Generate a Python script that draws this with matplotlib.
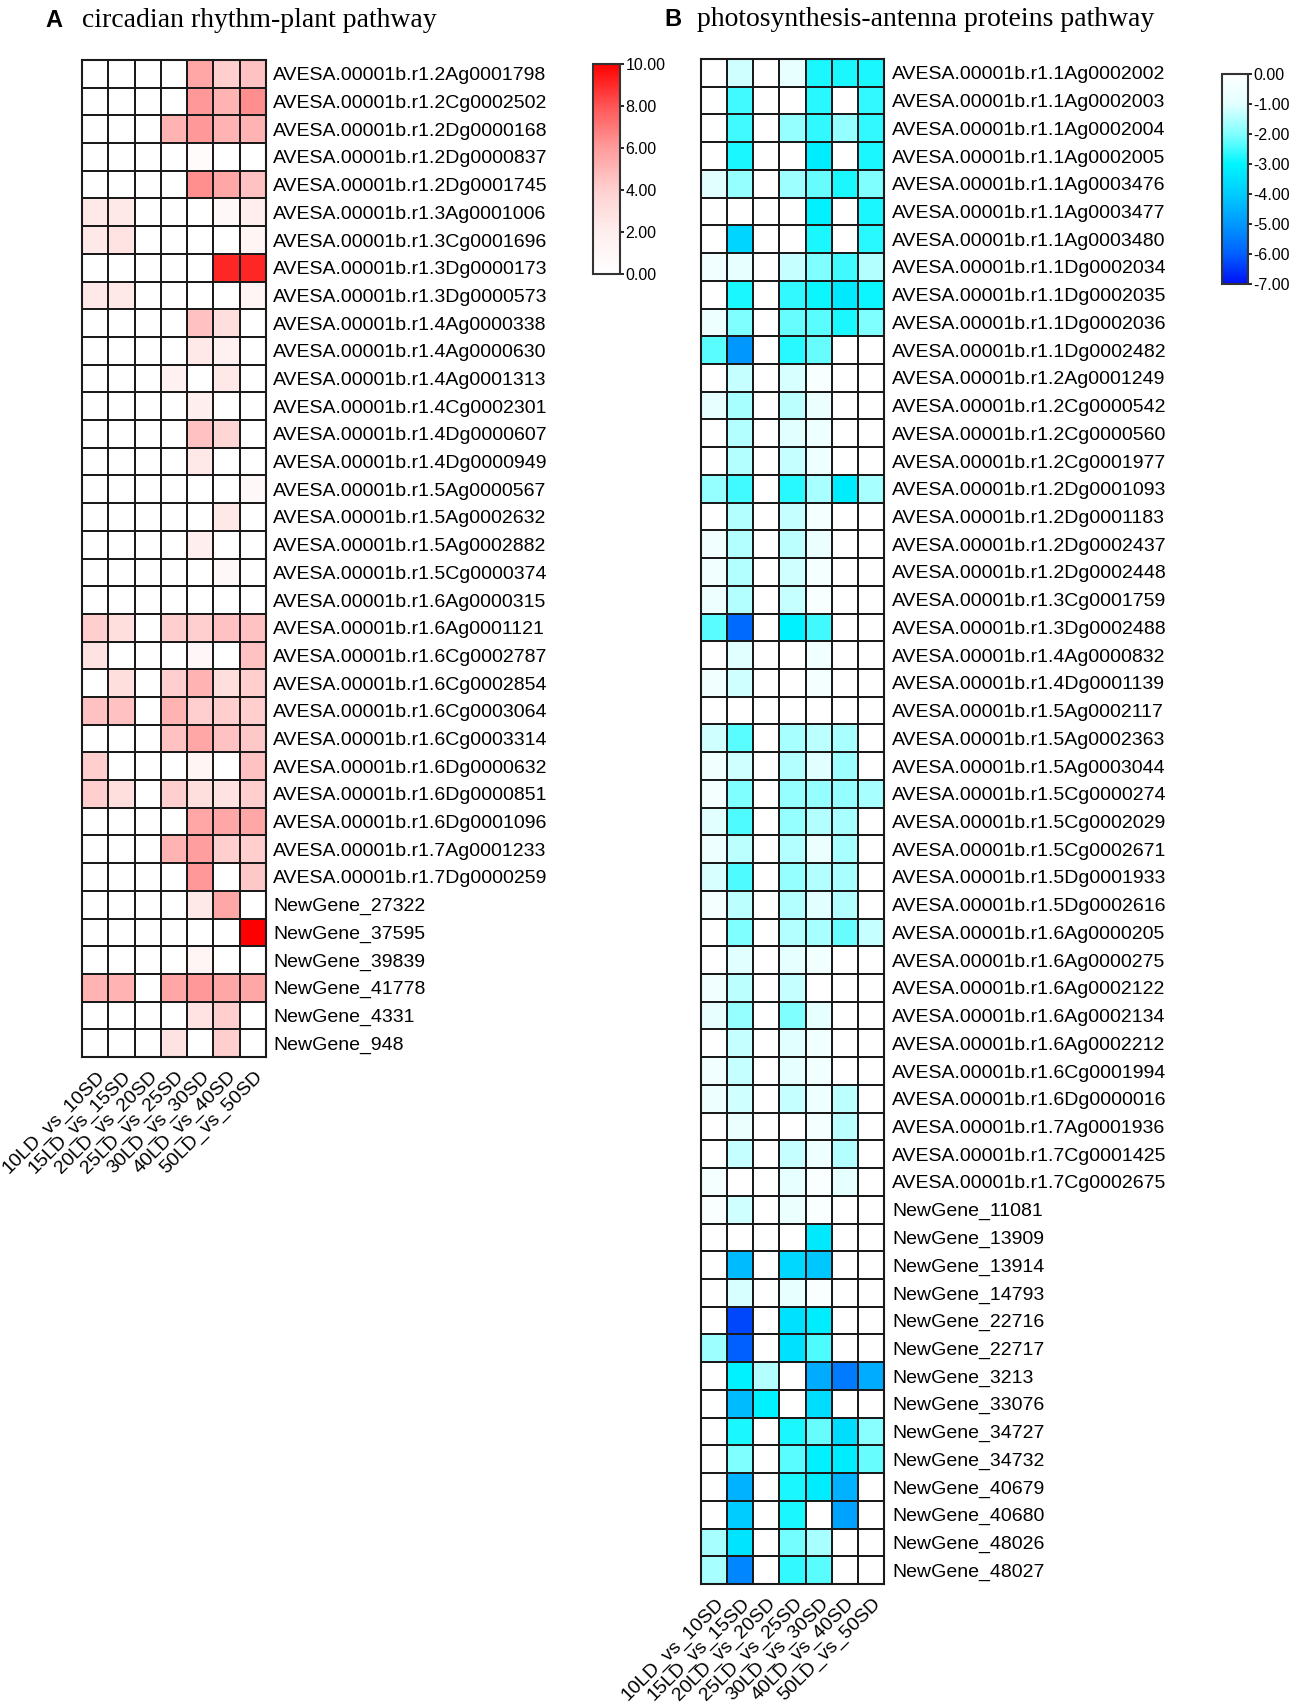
import numpy as np
import matplotlib
matplotlib.use("Agg")
import matplotlib.pyplot as plt
from matplotlib.colors import LinearSegmentedColormap
import matplotlib.transforms as mtransforms

plt.rcParams['font.family'] = ['Liberation Sans', 'DejaVu Sans']

comparisons = ["10LD_vs_10SD", "15LD_vs_15SD", "20LD_vs_20SD", "25LD_vs_25SD",
               "30LD_vs_30SD", "40LD_vs_40SD", "50LD_vs_50SD"]

# panel A: circadian rhythm-plant pathway
genes_a = ["AVESA.00001b.r1.2Ag0001798", "AVESA.00001b.r1.2Cg0002502", "AVESA.00001b.r1.2Dg0000168",
           "AVESA.00001b.r1.2Dg0000837", "AVESA.00001b.r1.2Dg0001745", "AVESA.00001b.r1.3Ag0001006",
           "AVESA.00001b.r1.3Cg0001696", "AVESA.00001b.r1.3Dg0000173", "AVESA.00001b.r1.3Dg0000573",
           "AVESA.00001b.r1.4Ag0000338", "AVESA.00001b.r1.4Ag0000630", "AVESA.00001b.r1.4Ag0001313",
           "AVESA.00001b.r1.4Cg0002301", "AVESA.00001b.r1.4Dg0000607", "AVESA.00001b.r1.4Dg0000949",
           "AVESA.00001b.r1.5Ag0000567", "AVESA.00001b.r1.5Ag0002632", "AVESA.00001b.r1.5Ag0002882",
           "AVESA.00001b.r1.5Cg0000374", "AVESA.00001b.r1.6Ag0000315", "AVESA.00001b.r1.6Ag0001121",
           "AVESA.00001b.r1.6Cg0002787", "AVESA.00001b.r1.6Cg0002854", "AVESA.00001b.r1.6Cg0003064",
           "AVESA.00001b.r1.6Cg0003314", "AVESA.00001b.r1.6Dg0000632", "AVESA.00001b.r1.6Dg0000851",
           "AVESA.00001b.r1.6Dg0001096", "AVESA.00001b.r1.7Ag0001233", "AVESA.00001b.r1.7Dg0000259",
           "NewGene_27322", "NewGene_37595", "NewGene_39839", "NewGene_41778", "NewGene_4331", "NewGene_948"]

vals_a = [
    [0, 0, 0, 0, 5.6, 4.1, 4.6],
    [0, 0, 0, 0, 6.1, 5.1, 6.4],
    [0, 0, 0, 5.1, 6.1, 5.1, 5.1],
    [0, 0, 0, 0, 0.5, 0, 0],
    [0, 0, 0, 0, 6.4, 5.6, 4.6],
    [2.4, 2.4, 0, 0, 0, 0.8, 2.0],
    [2.4, 2.8, 0, 0, 0, 0, 1.2],
    [0, 0, 0, 0, 0, 9.1, 9.1],
    [2.4, 2.4, 0, 0, 0, 0, 1.2],
    [0, 0, 0, 0, 4.6, 3.1, 0],
    [0, 0, 0, 0, 2.4, 1.7, 0],
    [0, 0, 0, 1.7, 0, 2.4, 0],
    [0, 0, 0, 0, 2.0, 0, 0],
    [0, 0, 0, 0, 4.6, 3.6, 0],
    [0, 0, 0, 0, 2.4, 0, 0],
    [0, 0, 0, 0, 0, 0, 0.8],
    [0, 0, 0, 0, 0, 2.4, 0],
    [0, 0, 0, 0, 2.0, 0, 0],
    [0, 0, 0, 0, 0, 0.8, 0],
    [0, 0, 0, 0, 0, 0, 0],
    [4.1, 3.1, 0, 4.1, 4.1, 4.6, 4.6],
    [2.8, 0, 0, 0, 1.0, 0, 4.6],
    [0, 3.1, 0, 4.1, 5.1, 3.1, 4.1],
    [4.6, 4.6, 0, 5.1, 4.1, 4.1, 4.1],
    [0, 0, 0, 4.6, 5.6, 4.6, 4.3],
    [4.1, 0, 0, 0, 1.2, 0, 4.6],
    [4.1, 3.1, 0, 4.1, 3.1, 2.8, 4.1],
    [0, 0, 0, 0, 5.6, 5.6, 5.6],
    [0, 0, 0, 5.1, 5.9, 4.1, 4.1],
    [0, 0, 0, 0, 6.1, 0, 4.3],
    [0, 0, 0, 0, 2.4, 5.6, 0],
    [0, 0, 0, 0, 0, 0, 10.0],
    [0, 0, 0, 0, 1.2, 0, 0],
    [5.1, 5.1, 0, 5.6, 6.1, 5.6, 5.6],
    [0, 0, 0, 0, 2.8, 4.1, 0],
    [0, 0, 0, 2.8, 0, 4.1, 0],
]

# panel B: photosynthesis-antenna proteins pathway
genes_b = ["AVESA.00001b.r1.1Ag0002002", "AVESA.00001b.r1.1Ag0002003", "AVESA.00001b.r1.1Ag0002004",
           "AVESA.00001b.r1.1Ag0002005", "AVESA.00001b.r1.1Ag0003476", "AVESA.00001b.r1.1Ag0003477",
           "AVESA.00001b.r1.1Ag0003480", "AVESA.00001b.r1.1Dg0002034", "AVESA.00001b.r1.1Dg0002035",
           "AVESA.00001b.r1.1Dg0002036", "AVESA.00001b.r1.1Dg0002482", "AVESA.00001b.r1.2Ag0001249",
           "AVESA.00001b.r1.2Cg0000542", "AVESA.00001b.r1.2Cg0000560", "AVESA.00001b.r1.2Cg0001977",
           "AVESA.00001b.r1.2Dg0001093", "AVESA.00001b.r1.2Dg0001183", "AVESA.00001b.r1.2Dg0002437",
           "AVESA.00001b.r1.2Dg0002448", "AVESA.00001b.r1.3Cg0001759", "AVESA.00001b.r1.3Dg0002488",
           "AVESA.00001b.r1.4Ag0000832", "AVESA.00001b.r1.4Dg0001139", "AVESA.00001b.r1.5Ag0002117",
           "AVESA.00001b.r1.5Ag0002363", "AVESA.00001b.r1.5Ag0003044", "AVESA.00001b.r1.5Cg0000274",
           "AVESA.00001b.r1.5Cg0002029", "AVESA.00001b.r1.5Cg0002671", "AVESA.00001b.r1.5Dg0001933",
           "AVESA.00001b.r1.5Dg0002616", "AVESA.00001b.r1.6Ag0000205", "AVESA.00001b.r1.6Ag0000275",
           "AVESA.00001b.r1.6Ag0002122", "AVESA.00001b.r1.6Ag0002134", "AVESA.00001b.r1.6Ag0002212",
           "AVESA.00001b.r1.6Cg0001994", "AVESA.00001b.r1.6Dg0000016", "AVESA.00001b.r1.7Ag0001936",
           "AVESA.00001b.r1.7Cg0001425", "AVESA.00001b.r1.7Cg0002675", "NewGene_11081", "NewGene_13909",
           "NewGene_13914", "NewGene_14793", "NewGene_22716", "NewGene_22717", "NewGene_3213",
           "NewGene_33076", "NewGene_34727", "NewGene_34732", "NewGene_40679", "NewGene_40680",
           "NewGene_48026", "NewGene_48027"]

vals_b = [
    [0, -1.2, 0, -0.8, -2.8, -2.8, -2.8],
    [0, -2.5, 0, 0, -2.7, 0, -2.6],
    [0, -2.5, 0, -1.8, -2.6, -1.8, -2.6],
    [0, -2.8, 0, 0, -3.2, 0, -2.8],
    [-1.0, -1.8, 0, -1.7, -2.2, -2.8, -2.0],
    [0, 0, 0, 0, -3.1, 0, -2.8],
    [0, -3.8, 0, 0, -2.8, 0, -2.7],
    [-0.5, -0.8, 0, -1.3, -2.0, -2.5, -1.5],
    [0, -2.8, 0, -2.6, -2.9, -3.3, -2.9],
    [-0.6, -2.0, 0, -2.2, -2.3, -2.8, -2.0],
    [-2.3, -5.0, 0, -2.7, -2.2, 0, 0],
    [0, -1.3, 0, -1.1, -0.3, 0, 0],
    [-0.8, -1.6, 0, -1.4, -0.7, 0, 0],
    [0, -1.5, 0, -1.0, -0.6, 0, 0],
    [0, -1.5, 0, -1.3, -0.6, 0, 0],
    [-1.8, -2.5, 0, -2.7, -1.6, -3.2, -1.6],
    [0, -1.5, 0, -1.3, -0.4, 0, 0],
    [-0.5, -1.5, 0, -1.4, -0.7, 0, 0],
    [-0.5, -1.5, 0, -1.2, -0.4, 0, 0],
    [-0.6, -1.5, 0, -1.3, -0.3, 0, 0],
    [-2.3, -5.8, 0, -3.1, -2.5, 0, 0],
    [0, -1.0, 0, 0, -0.5, 0, 0],
    [-0.5, -1.2, 0, 0, -0.4, 0, 0],
    [0, 0, 0, 0, 0, 0, 0],
    [-1.2, -2.3, 0, -1.6, -1.4, -1.6, 0],
    [-0.5, -1.2, 0, -1.5, -1.0, -1.7, 0],
    [-0.4, -2.0, 0, -1.8, -1.8, -1.8, -1.6],
    [-1.0, -2.4, 0, -1.8, -1.5, -1.6, 0],
    [-0.6, -1.4, 0, -1.5, -0.7, -1.6, 0],
    [-1.1, -2.4, 0, -1.8, -1.5, -1.6, 0],
    [-0.4, -1.4, 0, -1.5, -1.0, -1.5, 0],
    [0, -2.0, 0, -1.5, -1.6, -2.2, -1.3],
    [0, -1.0, 0, -0.9, -0.5, 0, 0],
    [-0.5, -1.4, 0, -1.3, 0, 0, 0],
    [-0.8, -1.8, 0, -2.0, -0.9, 0, 0],
    [0, -1.3, 0, -1.0, -0.5, 0, 0],
    [-0.5, -1.3, 0, -0.9, -0.5, 0, 0],
    [-0.6, -1.2, 0, -1.3, -0.6, -1.4, 0],
    [0, -0.7, 0, 0, -0.4, -1.4, 0],
    [0, -1.3, 0, -1.3, -0.6, -1.5, 0],
    [-0.4, 0, 0, -0.8, -0.2, -0.9, 0],
    [-0.2, -1.2, 0, -0.7, -0.2, 0, 0],
    [0, 0, 0, 0, -3.3, 0, 0],
    [0, -4.3, 0, -3.7, -4.1, 0, 0],
    [0, -1.1, 0, -0.8, -0.2, 0, 0],
    [0, -6.3, 0, -3.5, -3.2, 0, 0],
    [-1.7, -6.0, 0, -3.5, -2.4, 0, 0],
    [0, -3.1, -1.5, 0, -4.6, -5.5, -4.6],
    [0, -4.3, -3.1, 0, -3.6, 0, 0],
    [0, -2.8, 0, -2.8, -2.2, -3.6, -1.9],
    [0, -2.0, 0, -2.3, -3.1, -3.2, -2.2],
    [0, -4.5, 0, -2.8, -3.2, -4.5, 0],
    [0, -4.0, 0, -2.8, 0, -4.8, 0],
    [-1.6, -3.4, 0, -2.1, -1.6, 0, 0],
    [-1.6, -5.3, 0, -2.6, -2.3, 0, 0],
]

reds = LinearSegmentedColormap.from_list("reds", [
    (0.0, "#FFFFFF"), (0.2, "#FFEEEE"), (0.4, "#FFD0D0"),
    (0.6, "#FF9C9C"), (0.8, "#FF5555"), (1.0, "#FF0000")])
blues = LinearSegmentedColormap.from_list("blues", [
    (0.0, "#0010F5"), (1/7, "#0060FF"), (2/7, "#0098FF"), (3/7, "#00CCFF"),
    (4/7, "#00F5FF"), (5/7, "#80FFFF"), (6/7, "#E2FFFF"), (1.0, "#FFFFFF")])

W, H = 1299, 1707
fig = plt.figure(figsize=(W / 100, H / 100), dpi=100)


def box(x0, y0, x1, y1):
    return [x0 / W, 1 - y1 / H, (x1 - x0) / W, (y1 - y0) / H]


def heatmap(rect, data, genes, cmap, vmin, vmax, lab_pad):
    ax = fig.add_axes(rect)
    data = np.array(data)
    mesh = ax.pcolormesh(data, cmap=cmap, vmin=vmin, vmax=vmax,
                         edgecolors="#1a1a1a", linewidth=1.3)
    ax.set_xlim(0, data.shape[1])
    ax.set_ylim(data.shape[0], 0)
    ax.yaxis.tick_right()
    ax.set_yticks(np.arange(len(genes)) + 0.5)
    ax.set_yticklabels(genes, fontsize=14)
    ax.set_xticks(np.arange(len(comparisons)) + 0.5)
    ax.set_xticklabels(comparisons, fontsize=14, rotation=45, ha="right")
    ax.tick_params(axis="both", length=0)
    ax.tick_params(axis="y", pad=lab_pad)
    ax.tick_params(axis="x", pad=8)
    off = mtransforms.ScaledTranslation(0.13, 0, fig.dpi_scale_trans)
    for t in ax.get_xticklabels():
        t.set_transform(t.get_transform() + off)
    for s in ax.spines.values():
        s.set_linewidth(1.5)
        s.set_color("#1a1a1a")
    return mesh


def cbar(rect, mesh, ticks):
    cax = fig.add_axes(rect)
    cb = fig.colorbar(mesh, cax=cax, ticks=ticks)
    cb.ax.set_yticklabels([f"{t:.2f}" for t in ticks], fontsize=11.5)
    cb.ax.tick_params(length=3, width=1.2, pad=1)
    cb.outline.set_linewidth(1.5)
    cb.outline.set_edgecolor("#333333")


mesh_a = heatmap(box(82, 60, 266, 1057), vals_a, genes_a, reds, 0, 10, 5)
mesh_b = heatmap(box(701, 59, 884, 1584), vals_b, genes_b, blues, -7, 0, 6)
cbar(box(593, 64, 620, 274), mesh_a, [0, 2, 4, 6, 8, 10])
cbar(box(1222, 74, 1248, 284), mesh_b, [0, -1, -2, -3, -4, -5, -6, -7])

fig.text(45 / W, 1 - 27 / H, "A", fontsize=17, fontweight="bold", va="baseline")
fig.text(82 / W, 1 - 27 / H, "circadian rhythm-plant pathway", fontsize=20,
         family="Liberation Serif", va="baseline")
fig.text(664 / W, 1 - 26 / H, "B", fontsize=17, fontweight="bold", va="baseline")
fig.text(697 / W, 1 - 26 / H, "photosynthesis-antenna proteins pathway", fontsize=20,
         family="Liberation Serif", va="baseline")

fig.savefig("out.png", dpi=100, facecolor="white")
